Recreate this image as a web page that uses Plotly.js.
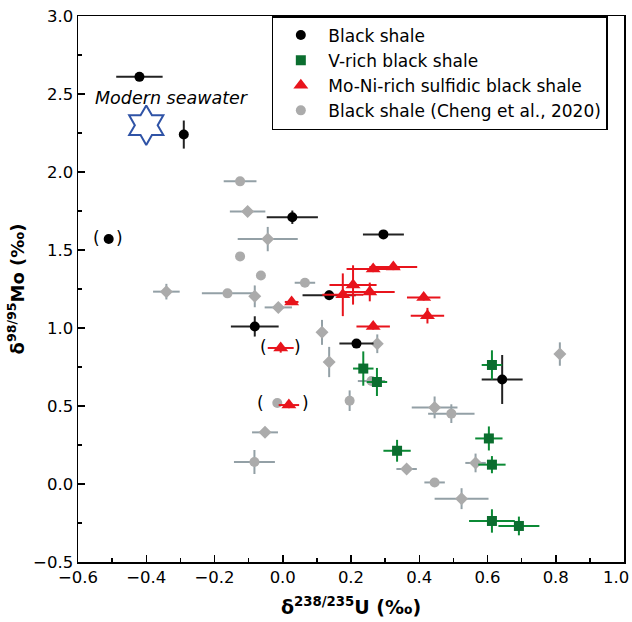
<!DOCTYPE html>
<html><head><meta charset="utf-8">
<script src="https://cdn.plot.ly/plotly-3.0.1.min.js"></script>
<style>html,body{margin:0;padding:0;background:#fff}#chart{width:632px;height:622px}</style>
</head><body><div id="chart"></div>
<script>
// Black shale
const bsX  = [-0.42, -0.29, -0.51, 0.028, -0.082, 0.295, 0.136, 0.216, 0.643];
const bsY  = [2.61, 2.24, 1.57, 1.71, 1.01, 1.60, 1.21, 0.90, 0.67];
const bsXe = [0.068, 0, 0.012, 0.075, 0.07, 0.06, 0.078, 0.05, 0.06];
const bsYe = [0.02, 0.09, 0.015, 0.043, 0.065, 0.02, 0.03, 0.02, 0.157];
// V-rich black shale
const vX  = [0.236, 0.276, 0.613, 0.604, 0.335, 0.613, 0.613, 0.692];
const vY  = [0.74, 0.654, 0.763, 0.292, 0.213, 0.124, -0.237, -0.269];
const vXe = [0.03, 0.03, 0.03, 0.04, 0.04, 0.04, 0.067, 0.06];
const vYe = [0.11, 0.09, 0.094, 0.077, 0.07, 0.055, 0.075, 0.06];
// Mo-Ni-rich sulfidic black shale
const moX  = [0.265, 0.324, 0.206, 0.176, 0.255, 0.413, 0.424, 0.265, 0.026, -0.006, 0.018];
const moY  = [1.378, 1.391, 1.276, 1.213, 1.231, 1.196, 1.079, 1.010, 1.167, 0.872, 0.506];
const moXe = [0.078, 0.07, 0.069, 0.06, 0.073, 0.049, 0.049, 0.049, 0.02, 0.038, 0.03];
const moYe = [0.02, 0.02, 0.126, 0.137, 0.06, 0.02, 0.05, 0.02, 0.02, 0.03, 0.02];
// Black shale (Cheng et al., 2020)
const gX  = [-0.125, -0.103, -0.044, -0.125, -0.064, -0.341, -0.162, -0.082, -0.013, 0.065, 0.115, 0.136, 0.277, 0.196, -0.016, -0.052, -0.083, 0.445, 0.494, 0.812, 0.565, 0.363, 0.445, 0.524, 0.26];
const gY  = [1.94, 1.747, 1.57, 1.459, 1.337, 1.233, 1.222, 1.203, 1.132, 1.29, 0.972, 0.782, 0.899, 0.534, 0.519, 0.331, 0.141, 0.491, 0.451, 0.833, 0.135, 0.096, 0.010, -0.094, 0.66];
const gXe = [0.048, 0.052, 0.088, 0, 0, 0.039, 0.075, 0, 0.04, 0.03, 0, 0, 0, 0, 0, 0.038, 0.06, 0.067, 0.068, 0, 0.03, 0.03, 0.03, 0.079, 0.04];
const gYe = [0, 0, 0.078, 0, 0, 0.05, 0, 0.07, 0, 0, 0.08, 0.097, 0.06, 0.066, 0, 0, 0.077, 0.07, 0.06, 0.075, 0.06, 0, 0, 0.067, 0];
const gSym = ['circle','diamond','diamond','circle','circle','diamond','circle','diamond','diamond','circle','diamond','diamond','diamond','circle','circle','diamond','circle','diamond','circle','diamond','diamond','diamond','circle','diamond','circle'];
// Modern seawater
const swX = [-0.40];
const swY = [2.30];
const swLabel = 'Modern seawater';
// Axis ticks (the last x label is drawn separately, pulled inside the page edge)
const xTicks = [-0.6, -0.4, -0.2, 0.0, 0.2, 0.4, 0.6, 0.8, 1.0];
const xTickText = ['−0.6', '−0.4', '−0.2', '0.0', '0.2', '0.4', '0.6', '0.8', ''];
const xLastLabel = '1.0';
const yTicks = [-0.5, 0.0, 0.5, 1.0, 1.5, 2.0, 2.5, 3.0];
const yTickText = ['−0.5', '0.0', '0.5', '1.0', '1.5', '2.0', '2.5', '3.0'];
// Legend names
const names = ['Black shale', 'V-rich black shale', 'Mo-Ni-rich sulfidic black shale', 'Black shale (Cheng et al., 2020)'];
// Points shown in brackets
const bracketed = [
  {xs: [bsX[2]], ys: [bsY[2]], l: -12, r: 11},
  {xs: [moX[9]], ys: [moY[9]], l: -17, r: 17},
  {xs: [gX[14], moX[10]], ys: [gY[14], moY[10]], l: -17, r: 17}
];

const FONT = '"DejaVu Sans", Verdana, sans-serif';
function eb(arr, color) { return {type: 'data', array: arr, visible: true, color: color, thickness: 2, width: 0}; }

const traces = [
  {x: gX, y: gY, type: 'scatter', mode: 'markers', name: names[3], legendrank: 4,
   marker: {color: '#ababab', size: 10, symbol: gSym},
   error_x: eb(gXe, '#93a0a6'), error_y: eb(gYe, '#93a0a6')},
  {x: bsX, y: bsY, type: 'scatter', mode: 'markers', name: names[0], legendrank: 1,
   marker: {color: '#000000', size: 10, symbol: 'circle'},
   error_x: eb(bsXe, '#222222'), error_y: eb(bsYe, '#222222')},
  {x: vX, y: vY, type: 'scatter', mode: 'markers', name: names[1], legendrank: 2,
   marker: {color: '#0b6e2f', size: 10, symbol: 'square'},
   error_x: eb(vXe, '#0b8a35'), error_y: eb(vYe, '#0b8a35')},
  {x: moX, y: moY, type: 'scatter', mode: 'markers', name: names[2], legendrank: 3,
   marker: {color: '#e8141c', size: 13, symbol: 'triangle-up'},
   error_x: eb(moXe, '#e8141c'), error_y: eb(moYe, '#e8141c')},
  {x: swX, y: swY, type: 'scatter', mode: 'markers', showlegend: false,
   marker: {color: '#2f53a6', size: 30, symbol: 'hexagram-open', line: {color: '#2f53a6', width: 2}}}
];

const annotations = [
  {x: swX[0], y: swY[0], xref: 'x', yref: 'y', text: '<i>' + swLabel + '</i>', showarrow: false,
   yshift: 27, xshift: 26, font: {family: FONT, size: 17.5, color: '#000'}},
  {x: xTicks[xTicks.length - 1], y: 0, xref: 'x', yref: 'paper', text: xLastLabel, showarrow: false,
   xanchor: 'right', yanchor: 'top', xshift: 7, yshift: -4, font: {family: FONT, size: 16.5, color: '#000'}}
];
bracketed.forEach(b => {
  const xm = Math.min(...b.xs), xM = Math.max(...b.xs), ym = b.ys.reduce((a, c) => a + c, 0) / b.ys.length;
  annotations.push({x: xm, y: ym, xref: 'x', yref: 'y', text: '(', showarrow: false, xshift: b.l, yshift: 1, font: {family: FONT, size: 17, color: '#000'}});
  annotations.push({x: xM, y: ym, xref: 'x', yref: 'y', text: ')', showarrow: false, xshift: b.r, yshift: 1, font: {family: FONT, size: 17, color: '#000'}});
});

const layout = {
  width: 632, height: 622,
  margin: {l: 78, r: 8, t: 16, b: 60, pad: 0},
  paper_bgcolor: '#fff', plot_bgcolor: '#fff',
  font: {family: FONT, size: 16.5, color: '#000'},
  showlegend: true,
  legend: {x: 0.355, y: 1, xanchor: 'left', yanchor: 'top', bgcolor: '#fff', bordercolor: '#000', borderwidth: 1.5,
           font: {family: FONT, size: 17, color: '#000'}, itemwidth: 45, tracegroupgap: 0},
  xaxis: {range: [-0.6, 1.0], tickmode: 'array', tickvals: xTicks, ticktext: xTickText, showgrid: false, zeroline: false,
          showline: true, linecolor: '#000', linewidth: 1.5, mirror: true,
          ticks: 'inside', ticklen: 7, tickwidth: 1.5, tickcolor: '#000',
          minor: {dtick: 0.1, tick0: -0.6, ticks: 'inside', ticklen: 4, tickwidth: 1.5, tickcolor: '#000'},
          tickfont: {family: FONT, size: 16.5},
          title: {text: '<b>δ<sup>238/235</sup>U (‰)</b>', font: {family: FONT, size: 19}, standoff: 14}},
  yaxis: {range: [-0.5, 3.0], tickmode: 'array', tickvals: yTicks, ticktext: yTickText, showgrid: false, zeroline: false,
          showline: true, linecolor: '#000', linewidth: 1.5, mirror: true,
          ticks: 'inside', ticklen: 7, tickwidth: 1.5, tickcolor: '#000',
          minor: {dtick: 0.25, tick0: -0.5, ticks: 'inside', ticklen: 4, tickwidth: 1.5, tickcolor: '#000'},
          tickfont: {family: FONT, size: 16.5},
          title: {text: '<b>δ<sup>98/95</sup>Mo (‰)</b>', font: {family: FONT, size: 18}, standoff: 4}},
  annotations: annotations
};

Plotly.newPlot('chart', traces, layout, {displayModeBar: false, staticPlot: true});
</script>
</body></html>
